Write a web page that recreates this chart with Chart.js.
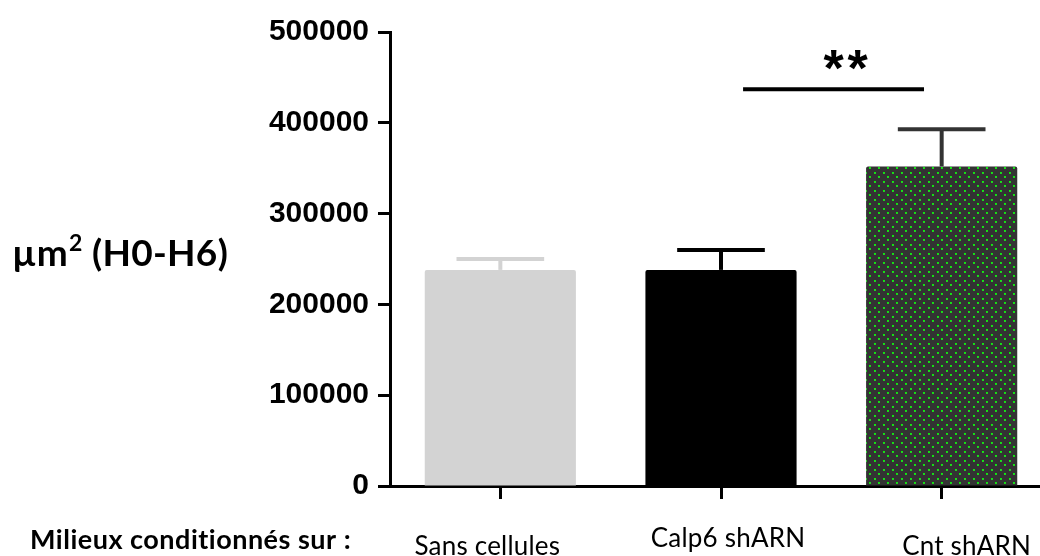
<!DOCTYPE html>
<html>
<head>
<meta charset="utf-8">
<script src="https://cdn.jsdelivr.net/npm/chart.js@4.4.0/dist/chart.umd.min.js"></script>
<style>
  html, body { margin: 0; padding: 0; background: #fff; overflow: hidden; }
  #wrap { width: 1052px; height: 556px; }
</style>
</head>
<body>
<div id="wrap"><canvas id="myChart" width="1052" height="556"></canvas></div>
<script>
// data
const categories = ['Sans cellules', 'Calp6 shARN', 'Cnt shARN'];
const means = [238000, 238000, 352000];
const sem = [12000, 22000, 41000];
const yTickValues = [0, 100000, 200000, 300000, 400000, 500000];
const sigPair = [1, 2];
const sigLevel = 437000;
const sigText = '**';
const xTitle = 'Milieux conditionnés sur :';
const yTitle = 'µm';

// styles
const barColors = ['#d3d3d3', '#000000', null];
const errColors = ['#d3d3d3', '#000000', '#333333'];
const labelNudge = [[-13, 555], [7, 547], [25, 555]];

// dotted green fill for the last bar
function dotPattern() {
    const tile = document.createElement('canvas');
    tile.width = 9;
    tile.height = 9;
    const t = tile.getContext('2d');
    t.fillStyle = '#333333';
    t.fillRect(0, 0, 9, 9);
    t.fillStyle = '#1fd21f';
    t.fillRect(1, 1, 2, 2);
    t.fillRect(5, 5, 2, 2);
    t.fillStyle = '#00ff00';
    t.fillRect(1, 1, 1, 1);
    t.fillRect(5, 5, 1, 1);
    return tile;
}

const ctx = document.getElementById('myChart').getContext('2d');
barColors[2] = ctx.createPattern(dotPattern(), 'repeat');

const extras = {
    id: 'extras',
    afterDatasetsDraw(chart) {
        const c = chart.ctx;
        const x = chart.scales.x;
        const y = chart.scales.y;
        const meta = chart.getDatasetMeta(0);
        c.save();
        // error bars
        meta.data.forEach((bar, i) => {
            const top = y.getPixelForValue(means[i] + sem[i]);
            const half = bar.width * 0.29;
            c.strokeStyle = errColors[i];
            c.lineWidth = 4;
            c.beginPath();
            c.moveTo(bar.x, bar.y);
            c.lineTo(bar.x, top);
            c.stroke();
            c.beginPath();
            c.moveTo(bar.x - half, top);
            c.lineTo(bar.x + half, top);
            c.stroke();
        });
        // significance
        const step = x.getPixelForValue(1) - x.getPixelForValue(0);
        const x1 = x.getPixelForValue(sigPair[0]) + step * 0.1;
        const x2 = x.getPixelForValue(sigPair[1]) - step * 0.08;
        const ly = y.getPixelForValue(sigLevel);
        c.strokeStyle = '#000';
        c.lineWidth = 4;
        c.beginPath();
        c.moveTo(x1, ly);
        c.lineTo(x2, ly);
        c.stroke();
        const sx = (x1 + x2) / 2 + 12;
        const sy = y.getPixelForValue(sigLevel + 32000);
        c.fillStyle = '#000';
        c.font = 'bold 52px "Liberation Sans"';
        c.textAlign = 'center';
        c.textBaseline = 'middle';
        c.fillText(sigText[0], sx - 12, sy + 12);
        c.fillText(sigText[1], sx + 12, sy + 12);
        // category labels
        c.textBaseline = 'alphabetic';
        c.letterSpacing = '0.2px';
        c.font = '26px Lato';
        categories.forEach((lab, i) => {
            c.fillText(lab, x.getPixelForValue(i) + labelNudge[i][0], labelNudge[i][1]);
        });
        c.textAlign = 'left';
        c.letterSpacing = '0.5px';
        c.font = 'bold 27px Lato';
        c.fillText(xTitle, 30, 549);
        // y title
        c.letterSpacing = '0.3px';
        c.font = 'bold 37px Lato';
        c.fillText(yTitle, 12, 266);
        let w = c.measureText(yTitle).width;
        c.font = 'bold 23px Lato';
        c.fillText('2', 12 + w + 1, 251);
        w += c.measureText('2').width + 1;
        c.font = 'bold 37px Lato';
        c.fillText(' (H0-H6)', 12 + w, 266);
        c.restore();
    }
};

const myChart = new Chart(ctx, {
    type: 'bar',
    data: {
        labels: categories,
        datasets: [{
            data: means,
            backgroundColor: barColors,
            borderWidth: 0,
            borderRadius: 2,
            borderSkipped: 'bottom',
            categoryPercentage: 1,
            barPercentage: 0.685
        }]
    },
    options: {
        responsive: false,
        animation: false,
        layout: { padding: { top: 32, left: 0, right: 0, bottom: 0 } },
        plugins: {
            legend: { display: false },
            tooltip: { enabled: false }
        },
        scales: {
            x: {
                grid: {
                    offset: false,
                    drawOnChartArea: false,
                    drawTicks: true,
                    tickLength: 13,
                    tickWidth: 3,
                    tickColor: '#000'
                },
                border: { color: '#000', width: 3 },
                ticks: { display: false },
                afterFit(scale) { scale.height = 70; }
            },
            y: {
                min: 0,
                max: 500000,
                afterBuildTicks(scale) {
                    scale.ticks = yTickValues.map(v => ({ value: v }));
                },
                grid: {
                    drawOnChartArea: false,
                    drawTicks: true,
                    tickLength: 12,
                    tickWidth: 3,
                    tickColor: '#000'
                },
                border: { color: '#000', width: 3 },
                ticks: {
                    color: '#000',
                    padding: 9,
                    font: { family: 'Liberation Sans', size: 30, weight: 'bold' },
                    callback: v => String(v)
                },
                afterFit(scale) { scale.width = 390; }
            }
        }
    },
    plugins: [extras]
});
</script>
</body>
</html>
